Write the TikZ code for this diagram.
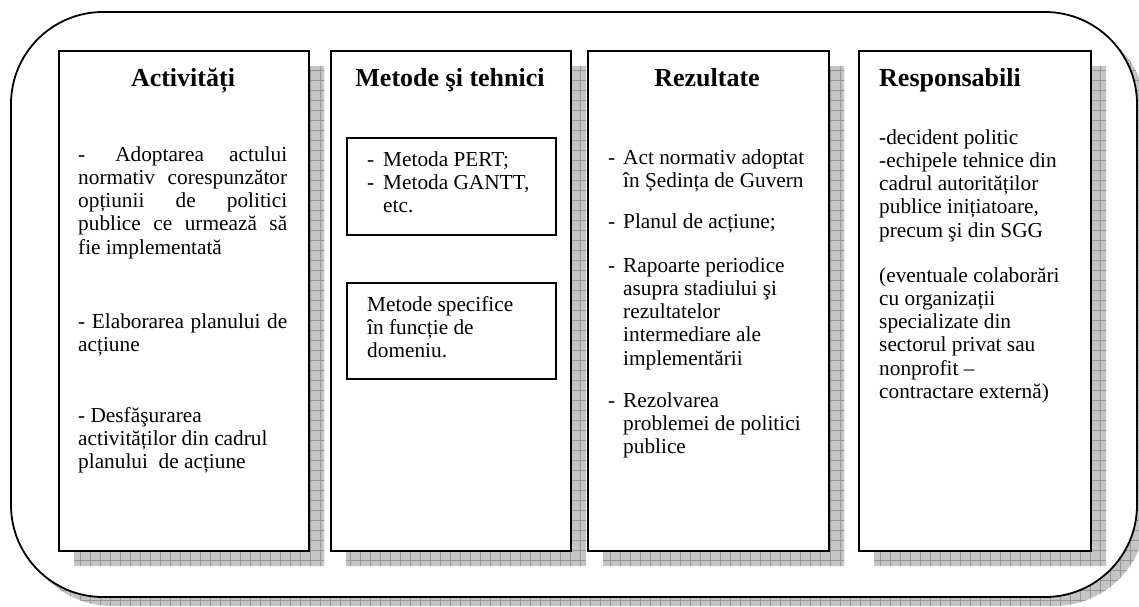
\documentclass[tikz,border=0pt]{standalone}
\usepackage{fontspec}
\setmainfont{Liberation Serif}
\definecolor{shadowgray}{RGB}{196,196,196}
\definecolor{gridgray}{RGB}{150,150,150}
\newcommand{\bodyfnt}{\fontsize{21.3pt}{23.3pt}\selectfont}
\newcommand{\titlefnt}{\fontsize{26pt}{30pt}\selectfont\bfseries}
\newcommand{\jl}[1]{\makebox[\linewidth][s]{#1}}
\begin{document}
\begin{tikzpicture}[x=1pt,y=-1pt,
  frame/.style={draw=black, line width=1.8pt, fill=white, rounded corners=92pt},
  colbox/.style={draw=black, line width=1.8pt, fill=white, inner sep=0pt, anchor=north west},
  subbox/.style={draw=black, line width=1.5pt, fill=white, inner sep=0pt, anchor=north west},
  gridline/.style={draw=gridgray, line width=0.6pt},
  title/.style={anchor=base, inner sep=0pt, font=\titlefnt},
  body/.style={anchor=base west, inner sep=0pt, font=\bodyfnt},
]
\useasboundingbox (0,0) rectangle (1139,606);
\clip (0,0) rectangle (1139,606);

% outer shadow
\fill[shadowgray, rounded corners=92pt] (20,21) rectangle (1146,606);
\begin{scope}
  \clip[rounded corners=92pt] (20,21) rectangle (1146,606);
  \draw[gridline, step=10pt] (0,0) grid (1150,610);
\end{scope}
% outer frame
\draw[frame] (11,12) rectangle (1137,597);

% column shadows
\fill[shadowgray] (74,66) rectangle (324,566) (346,66) rectangle (586,566)
  (603,66) rectangle (844,566) (874,66) rectangle (1106,566);
\begin{scope}
  \clip (74,66) rectangle (324,566) (346,66) rectangle (586,566)
    (603,66) rectangle (844,566) (874,66) rectangle (1106,566);
  \draw[gridline, step=10pt] (0,0) grid (1150,610);
\end{scope}

% columns
\node[colbox, minimum width=250pt, minimum height=500pt] (colA) at (58,50) {};
\node[colbox, minimum width=240pt, minimum height=500pt] (colM) at (330,50) {};
\node[colbox, minimum width=241pt, minimum height=500pt] (colR) at (587,50) {};
\node[colbox, minimum width=232pt, minimum height=500pt] (colS) at (858,50) {};

% sub boxes in Metode
\node[subbox, minimum width=209pt, minimum height=97pt] (m1) at (346,137) {};
\node[subbox, minimum width=209pt, minimum height=96pt] (m2) at (346,282) {};

% titles
\node[title] (tA) at (183,86) {Activități};
\node[title] (tM) at (450,86) {Metode şi tehnici};
\node[title] (tR) at (707,86) {Rezultate};
\node[title, anchor=base west] (tS) at (879,86) {Responsabili};

% Activitati
\node[body] (a1) at (78,161) {\parbox[t]{209pt}{%
  \makebox[\linewidth]{-\hspace{30pt}Adoptarea\hfill actului}\\
  \jl{normativ corespunzător}\\
  \jl{opțiunii de politici}\\
  \jl{publice ce urmează să}\\
  fie implementată}};
\node[body] (a2) at (78,328) {\parbox[t]{209pt}{%
  \jl{- Elaborarea planului de}\\
  acțiune}};
\node[body] (a3) at (78,422) {\parbox[t]{209pt}{%
  - Desfăşurarea\\
  activităților din cadrul\\
  planului\ \ de acțiune}};

% Metode
\node[body] (mt1) at (367,166) {\parbox[t]{185pt}{%
  \makebox[16pt][l]{-}Metoda PERT;\\
  \makebox[16pt][l]{-}Metoda GANTT,\\
  \hspace*{16pt}etc.}};
\node[body] (mt2) at (367,311) {\parbox[t]{185pt}{%
  Metode specifice\\
  în funcție de\\
  domeniu.}};

% Rezultate
\node[body] (r1) at (608,164) {\parbox[t]{215pt}{%
  \makebox[15pt][l]{-}Act normativ adoptat\\
  \hspace*{15pt}în Ședința de Guvern}};
\node[body] (r2) at (608,228) {\parbox[t]{215pt}{%
  \makebox[15pt][l]{-}Planul de acțiune;}};
\node[body] (r3) at (608,272) {\parbox[t]{215pt}{%
  \makebox[15pt][l]{-}Rapoarte periodice\\
  \hspace*{15pt}asupra stadiului şi\\
  \hspace*{15pt}rezultatelor\\
  \hspace*{15pt}intermediare ale\\
  \hspace*{15pt}implementării}};
\node[body] (r4) at (608,407) {\parbox[t]{215pt}{%
  \makebox[15pt][l]{-}Rezolvarea\\
  \hspace*{15pt}problemei de politici\\
  \hspace*{15pt}publice}};

% Responsabili
\node[body] (s1) at (879,144) {\parbox[t]{205pt}{%
  -decident politic\\
  -echipele tehnice din\\
  cadrul autorităților\\
  publice inițiatoare,\\
  precum şi din SGG}};
\node[body] (s2) at (879,282) {\parbox[t]{205pt}{%
  (eventuale colaborări\\
  cu organizații\\
  specializate din\\
  sectorul privat sau\\
  nonprofit --\\
  contractare externă)}};
\end{tikzpicture}
\end{document}
